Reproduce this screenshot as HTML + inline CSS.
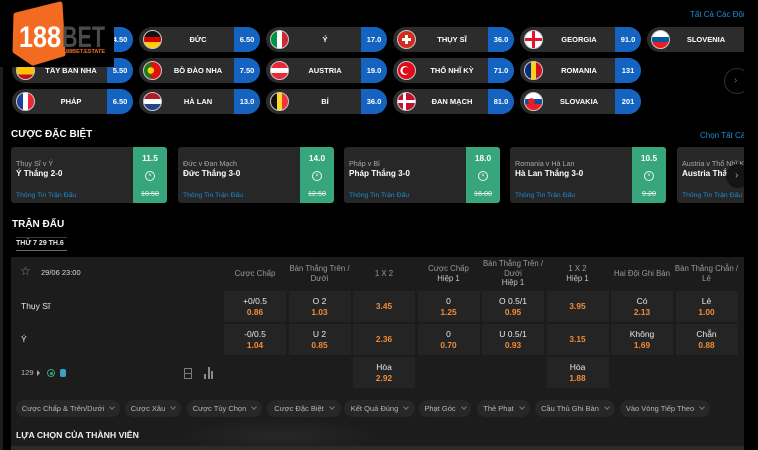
<!DOCTYPE html>
<html><head><meta charset="utf-8">
<style>
*{margin:0;padding:0;box-sizing:border-box}
body{width:758px;height:450px;background:#000;overflow:hidden;position:relative;font-family:"Liberation Sans","DejaVu Sans",Arial,sans-serif;color:#fff}
.wrap{position:absolute;left:0;top:0;width:744px;height:450px;overflow:hidden}
.a{position:absolute;white-space:nowrap}
.pill{position:absolute;width:121px;height:25px;border-radius:13px;background:#2c2c2c;overflow:hidden}
.pill .f{position:absolute;left:4px;top:3px;width:19px;height:19px;border-radius:50%;border:1px solid #c8c8c8;overflow:hidden}
.pill .n{position:absolute;left:23px;right:26px;top:0;height:25px;line-height:25px;text-align:center;font-weight:bold;font-size:7.5px;white-space:nowrap}
.pill .p{position:absolute;right:0;top:0;width:26px;height:25px;line-height:25px;background:#1563c1;text-align:center;font-weight:bold;font-size:7.5px}
.card{position:absolute;top:147px;width:156px;height:56px;background:#272727;border-radius:3px;overflow:hidden}
.card .t1{position:absolute;left:5px;top:12px;font-size:7.2px;line-height:9px;color:#a8a8a8;white-space:nowrap}
.card .t2{position:absolute;left:5px;top:21px;font-size:8.2px;line-height:11px;font-weight:bold;white-space:nowrap}
.card .t3{position:absolute;left:5px;top:44px;font-size:6.8px;line-height:9px;color:#1c8cd2;white-space:nowrap}
.card .g{position:absolute;right:0;top:0;width:34px;height:56px;background:#38a67c;text-align:center}
.card .g .o1{position:absolute;left:0;width:34px;top:6px;font-size:8.3px;line-height:10px;font-weight:bold}
.card .g .ci{position:absolute;left:12px;top:24px;width:10px;height:10px;border:1px solid #e8f5ee;border-radius:50%;font-size:6px;line-height:8px;text-align:center;color:#e8f5ee}
.card .g .o2{position:absolute;left:0;width:34px;top:41.5px;font-size:7.2px;line-height:9px;text-decoration:line-through;color:#e6f3ec}
.hd{position:absolute;top:257px;height:33px;width:64px;display:flex;align-items:center;justify-content:center;text-align:center;font-size:7.8px;line-height:9.5px;color:#9a9a9a}
.hd b{font-weight:normal;color:#c4c4c4}
.c{position:absolute;width:62px;height:31px;background:#242424;display:flex;flex-direction:column;justify-content:center;text-align:center;font-size:8.5px;line-height:10.5px;color:#e8e8e8}
.c .o{color:#f28c38;font-weight:bold;font-size:8.3px}
.tab{position:absolute;top:400px;height:17px;border-radius:9px;background:#272727;display:flex;align-items:center;justify-content:center;font-size:7.5px;color:#b6b6b6;white-space:nowrap}
.tab i{display:inline-block;width:4px;height:4px;border-right:1px solid #777;border-bottom:1px solid #777;transform:rotate(45deg);margin-left:6px;margin-top:-3px}
</style></head><body>
<div class="wrap">

<div class="a" style="left:690px;top:10px;font-size:8px;line-height:10px;color:#1c8fd6">Tất Cả Các Đội</div>

<div class="pill" style="left:12px;top:27px"><div class="f" style="background:linear-gradient(90deg,transparent 42%,#ce1124 42% 58%,transparent 58%),linear-gradient(transparent 42%,#ce1124 42% 58%,transparent 58%),#fff"></div><div class="n">ANH</div><div class="p">4.50</div></div>
<div class="pill" style="left:12px;top:58px"><div class="f" style="background:linear-gradient(#c60b1e 27%,#ffc400 27% 73%,#c60b1e 73%)"></div><div class="n">TÂY BAN NHA</div><div class="p">5.50</div></div>
<div class="pill" style="left:12px;top:89px"><div class="f" style="background:linear-gradient(90deg,#1f3f9a 34%,#fff 34% 66%,#ed2939 66%)"></div><div class="n">PHÁP</div><div class="p">6.50</div></div>

<div class="pill" style="left:139px;top:27px"><div class="f" style="background:linear-gradient(#111 34%,#dd0000 34% 66%,#ffce00 66%)"></div><div class="n">ĐỨC</div><div class="p">6.50</div></div>
<div class="pill" style="left:139px;top:58px"><div class="f" style="background:radial-gradient(circle at 40% 50%,#ffd200 0 3px,transparent 3.5px),linear-gradient(90deg,#1a7a1a 40%,#e01010 40%)"></div><div class="n">BỒ ĐÀO NHA</div><div class="p">7.50</div></div>
<div class="pill" style="left:139px;top:89px"><div class="f" style="background:linear-gradient(#ae1c28 34%,#fff 34% 66%,#21468b 66%)"></div><div class="n">HÀ LAN</div><div class="p">13.0</div></div>

<div class="pill" style="left:266px;top:27px"><div class="f" style="background:linear-gradient(90deg,#009246 34%,#fff 34% 66%,#ce2b37 66%)"></div><div class="n">Ý</div><div class="p">17.0</div></div>
<div class="pill" style="left:266px;top:58px"><div class="f" style="background:linear-gradient(#ed2939 34%,#fff 34% 66%,#ed2939 66%)"></div><div class="n">AUSTRIA</div><div class="p">19.0</div></div>
<div class="pill" style="left:266px;top:89px"><div class="f" style="background:linear-gradient(90deg,#111 34%,#fdda24 34% 66%,#ef3340 66%)"></div><div class="n">BỈ</div><div class="p">36.0</div></div>

<div class="pill" style="left:393px;top:27px"><div class="f" style="background:linear-gradient(#fff,#fff) center/9px 3px no-repeat,linear-gradient(#fff,#fff) center/3px 9px no-repeat,#d52b1e"></div><div class="n">THỤY SĨ</div><div class="p">36.0</div></div>
<div class="pill" style="left:393px;top:58px"><div class="f" style="background:radial-gradient(circle at 47% 50%,#e30a17 0 3.2px,transparent 3.6px),radial-gradient(circle at 40% 50%,#fff 0 4.2px,transparent 4.6px),#e30a17"></div><div class="n">THỔ NHĨ KỲ</div><div class="p">71.0</div></div>
<div class="pill" style="left:393px;top:89px"><div class="f" style="background:linear-gradient(#fff,#fff) 0 center/100% 3px no-repeat,linear-gradient(#fff,#fff) 5px 0/3px 100% no-repeat,#c8102e"></div><div class="n">ĐAN MẠCH</div><div class="p">81.0</div></div>

<div class="pill" style="left:520px;top:27px"><div class="f" style="background:linear-gradient(#e8112d,#e8112d) center/100% 3px no-repeat,linear-gradient(#e8112d,#e8112d) center/3px 100% no-repeat,#fff"></div><div class="n">GEORGIA</div><div class="p">91.0</div></div>
<div class="pill" style="left:520px;top:58px"><div class="f" style="background:linear-gradient(90deg,#002b7f 34%,#fcd116 34% 66%,#ce1126 66%)"></div><div class="n">ROMANIA</div><div class="p">131</div></div>
<div class="pill" style="left:520px;top:89px"><div class="f" style="background:radial-gradient(circle at 38% 50%,#ee1c25 0 3px,transparent 3.5px),linear-gradient(#fff 34%,#0b4ea2 34% 66%,#ee1c25 66%)"></div><div class="n">SLOVAKIA</div><div class="p">201</div></div>

<div class="pill" style="left:647px;top:27px"><div class="f" style="background:linear-gradient(#fff 34%,#005da4 34% 66%,#ed1c24 66%)"></div><div class="n">SLOVENIA</div></div>

<div class="a" style="left:724px;top:68px;width:26px;height:26px;border-radius:50%;border:1px solid #2e2e2e;background:#000;color:#666;font-size:10px;line-height:24px;padding-left:9px">›</div>

<div class="a" style="left:11px;top:129px;font-size:10px;line-height:12px;font-weight:bold">CƯỢC ĐẶC BIỆT</div>
<div class="a" style="left:700px;top:131px;font-size:8px;line-height:10px;color:#1c8fd6">Chọn Tất Cả</div>

<div class="card" style="left:11px"><div class="t1">Thụy Sĩ v Ý</div><div class="t2">Ý Thắng 2-0</div><div class="t3">Thông Tin Trận Đấu</div><div class="g"><div class="o1">11.5</div><div class="ci">×</div><div class="o2">10.50</div></div></div>
<div class="card" style="left:178px"><div class="t1">Đức v Đan Mạch</div><div class="t2">Đức Thắng 3-0</div><div class="t3">Thông Tin Trận Đấu</div><div class="g"><div class="o1">14.0</div><div class="ci">×</div><div class="o2">12.50</div></div></div>
<div class="card" style="left:344px"><div class="t1">Pháp v Bỉ</div><div class="t2">Pháp Thắng 3-0</div><div class="t3">Thông Tin Trận Đấu</div><div class="g"><div class="o1">18.0</div><div class="ci">×</div><div class="o2">16.00</div></div></div>
<div class="card" style="left:510px"><div class="t1">Romania v Hà Lan</div><div class="t2">Hà Lan Thắng 3-0</div><div class="t3">Thông Tin Trận Đấu</div><div class="g"><div class="o1">10.5</div><div class="ci">×</div><div class="o2">9.20</div></div></div>
<div class="card" style="left:677px"><div class="t1">Austria v Thổ Nhĩ Kỳ</div><div class="t2">Austria Thắng 3-0</div><div class="t3">Thông Tin Trận Đấu</div><div class="g"><div class="o1">9.00</div><div class="ci">×</div><div class="o2">8.00</div></div></div>
<div class="a" style="left:726px;top:164px;width:24px;height:24px;border-radius:50%;background:#141414;color:#aaa;font-size:10px;line-height:24px;padding-left:9px">›</div>

<div class="a" style="left:12px;top:219px;font-size:10px;line-height:12px;font-weight:bold">TRẬN ĐẤU</div>
<div class="a" style="left:16px;top:237px;width:51px;height:1px;background:#3a3a3a"></div>
<div class="a" style="left:16px;top:239px;font-size:7px;line-height:9px;font-weight:bold;color:#e8e8e8">THỨ 7 29 TH.6</div>
<div class="a" style="left:16px;top:250px;width:51px;height:1px;background:#6a6a6a"></div>

<div class="a" style="left:11px;top:257px;width:733px;height:193px;background:#1c1c1c"></div>
<div class="a" style="left:180px;top:418px;width:200px;height:30px;background:radial-gradient(ellipse at 50% 60%,rgba(60,60,60,0.35),rgba(28,28,28,0) 70%)"></div>
<div class="a" style="left:11px;top:446px;width:733px;height:4px;background:#2b2b2b"></div>

<div class="a" style="left:20px;top:264px;font-size:12px;line-height:14px;color:#8a8a8a">☆</div>
<div class="a" style="left:41px;top:268px;font-size:7.5px;line-height:9px;color:#dcdcdc">29/06 23:00</div>

<div class="hd" style="left:223px">Cược Chấp</div>
<div class="hd" style="left:287.5px">Bàn Thắng Trên /<br>Dưới</div>
<div class="hd" style="left:352px">1 X 2</div>
<div class="hd" style="left:416.5px"><span>Cược Chấp<br><b>Hiệp 1</b></span></div>
<div class="hd" style="left:481px"><span>Bàn Thắng Trên /<br>Dưới<br><b>Hiệp 1</b></span></div>
<div class="hd" style="left:545.5px"><span>1 X 2<br><b>Hiệp 1</b></span></div>
<div class="hd" style="left:610px">Hai Đội Ghi Bàn</div>
<div class="hd" style="left:674.5px">Bàn Thắng Chẵn /<br>Lẻ</div>

<div class="a" style="left:21px;top:301px;font-size:8.5px;line-height:10px;color:#e6e6e6">Thụy Sĩ</div>
<div class="a" style="left:21px;top:334px;font-size:8.5px;line-height:10px;color:#e6e6e6">Ý</div>

<div class="c" style="left:224px;top:291px"><div>+0/0.5</div><div class="o">0.86</div></div>
<div class="c" style="left:288.5px;top:291px"><div>O 2</div><div class="o">1.03</div></div>
<div class="c" style="left:353px;top:291px"><div class="o">3.45</div></div>
<div class="c" style="left:417.5px;top:291px"><div>0</div><div class="o">1.25</div></div>
<div class="c" style="left:482px;top:291px"><div>O 0.5/1</div><div class="o">0.95</div></div>
<div class="c" style="left:546.5px;top:291px"><div class="o">3.95</div></div>
<div class="c" style="left:611px;top:291px"><div>Có</div><div class="o">2.13</div></div>
<div class="c" style="left:675.5px;top:291px"><div>Lẻ</div><div class="o">1.00</div></div>
<div class="c" style="left:224px;top:324px"><div>-0/0.5</div><div class="o">1.04</div></div>
<div class="c" style="left:288.5px;top:324px"><div>U 2</div><div class="o">0.85</div></div>
<div class="c" style="left:353px;top:324px"><div class="o">2.36</div></div>
<div class="c" style="left:417.5px;top:324px"><div>0</div><div class="o">0.70</div></div>
<div class="c" style="left:482px;top:324px"><div>U 0.5/1</div><div class="o">0.93</div></div>
<div class="c" style="left:546.5px;top:324px"><div class="o">3.15</div></div>
<div class="c" style="left:611px;top:324px"><div>Không</div><div class="o">1.69</div></div>
<div class="c" style="left:675.5px;top:324px"><div>Chẵn</div><div class="o">0.88</div></div>
<div class="c" style="left:353px;top:357px"><div>Hòa</div><div class="o">2.92</div></div>
<div class="c" style="left:546.5px;top:357px"><div>Hòa</div><div class="o">1.88</div></div>

<div class="a" style="left:21px;top:368px;font-size:7.5px;line-height:10px;color:#b8b8b8">129</div>
<div class="a" style="left:37px;top:370px;width:0;height:0;border-left:3px solid #aaa;border-top:3px solid transparent;border-bottom:3px solid transparent"></div>
<div class="a" style="left:47px;top:369px;width:8px;height:8px;border:1px solid #35a37a;border-radius:50%"></div>
<div class="a" style="left:49.5px;top:371.5px;width:3px;height:3px;background:#35a37a;border-radius:50%"></div>
<div class="a" style="left:60px;top:369px;width:6px;height:8px;background:#3aa2c4;border-radius:2px"></div>
<div class="a" style="left:184px;top:368px;width:8px;height:11px;border:1px solid #7a7a7a"></div>
<div class="a" style="left:184px;top:373px;width:8px;height:1px;background:#7a7a7a"></div>
<div class="a" style="left:204px;top:374px;width:2px;height:5px;background:#8a8a8a"></div>
<div class="a" style="left:207.5px;top:367px;width:2px;height:12px;background:#8a8a8a"></div>
<div class="a" style="left:211px;top:371px;width:2px;height:8px;background:#8a8a8a"></div>

<div class="tab" style="left:16px;width:104px">Cược Chấp &amp; Trên/Dưới<i></i></div>
<div class="tab" style="left:125px;width:56px">Cược Xâu<i></i></div>
<div class="tab" style="left:187px;width:75px">Cược Tùy Chọn<i></i></div>
<div class="tab" style="left:267px;width:74px">Cược Đặc Biệt<i></i></div>
<div class="tab" style="left:344px;width:71px">Kết Quả Đúng<i></i></div>
<div class="tab" style="left:419px;width:52px">Phạt Góc<i></i></div>
<div class="tab" style="left:477px;width:53px">Thẻ Phạt<i></i></div>
<div class="tab" style="left:535px;width:80px">Cầu Thủ Ghi Bàn<i></i></div>
<div class="tab" style="left:620px;width:90px">Vào Vòng Tiếp Theo<i></i></div>

<div class="a" style="left:16px;top:430px;font-size:8.7px;line-height:11px;font-weight:bold;color:#f0f0f0">LỰA CHỌN CỦA THÀNH VIÊN</div>

<div class="a" style="left:0;top:67px;width:3px;height:383px;background:#1e1e1e"></div>

<svg class="a" style="left:0;top:0" width="114" height="67" viewBox="0 0 114 67">
<rect width="114" height="67" fill="#000"/>
<path d="M16 15 L60 4 L63 54 L33 63 L15 51 Z" fill="#f26b21" stroke="#f26b21" stroke-width="5" stroke-linejoin="round"/>
<text x="19" y="47" font-family="Liberation Sans, sans-serif" font-weight="bold" font-size="30" fill="#fff" textLength="42" lengthAdjust="spacingAndGlyphs">188</text>
<text x="62" y="47" font-family="Liberation Sans, sans-serif" font-weight="bold" font-size="30" fill="#4a4a4a" textLength="43" lengthAdjust="spacingAndGlyphs">BET</text>
<text x="63" y="53" font-family="Liberation Sans, sans-serif" font-weight="bold" font-size="5.5" fill="#f26b21" textLength="42" lengthAdjust="spacingAndGlyphs">188BET.ESTATE</text>
</svg>

</div>
</body></html>
